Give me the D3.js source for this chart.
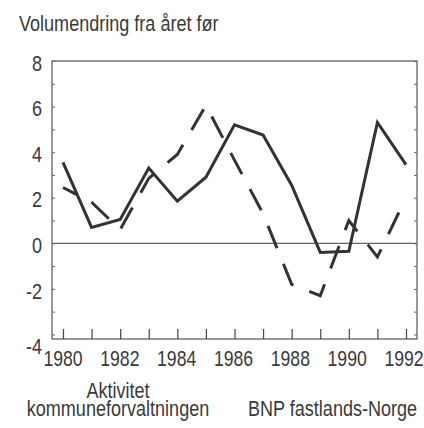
<!DOCTYPE html>
<html>
<head>
<meta charset="utf-8">
<script src="https://cdn.jsdelivr.net/npm/d3@7"></script>
<style>
  body { margin: 0; background: #fff; }
  text { font-family: "Liberation Sans", Arial, sans-serif; fill: #3a3a3a; }
</style>
</head>
<body>
<script>
var years = [1980, 1981, 1982, 1983, 1984, 1985, 1986, 1987, 1988, 1989, 1990, 1991, 1992];
var solid = [3.55, 0.7, 1.05, 3.3, 1.85, 2.9, 5.2, 4.75, 2.55, -0.4, -0.35, 5.3, 3.45];
var dashed = [2.45, 1.8, 0.6, 2.85, 3.9, 6.05, 3.65, 1.3, -1.8, -2.3, 1.0, -0.6, 2.0];
var yTicks = [-4, -2, 0, 2, 4, 6, 8];
var xLabels = [1980, 1982, 1984, 1986, 1988, 1990, 1992];
var title = "Volumendring fra året før";
var legendLeft = ["Aktivitet", "kommuneforvaltningen"];
var legendRight = "BNP fastlands-Norge";

var svg = d3.select("body").append("svg")
    .attr("width", 424)
    .attr("height", 428);

var plotLeft = 52, plotRight = 417, plotTop = 61, plotBottom = 339;

var scalex = d3.scaleLinear()
    .domain([1980, 1992])
    .range([63, 406]);

// year labels sit a touch left of their ticks towards the right end
var scalexLabel = scalex.copy().range([62.5, 403.5]);

var scaley = d3.scaleLinear()
    .domain([-4.2, 8])
    .range([plotBottom, plotTop]);

// the original uses a narrow face; squeeze the regular one
function narrow(sel) {
  sel.each(function() {
    var w = this.getComputedTextLength();
    d3.select(this)
      .attr("textLength", w * 0.82)
      .attr("lengthAdjust", "spacingAndGlyphs");
  });
}

// title
svg.append("text")
    .attr("x", 19)
    .attr("y", 31)
    .style("font-size", "22px")
    .text(title)
    .call(narrow);

// frame
svg.append("rect")
    .attr("x", plotLeft)
    .attr("y", plotTop)
    .attr("width", plotRight - plotLeft)
    .attr("height", plotBottom - plotTop)
    .attr("fill", "none")
    .attr("stroke", "#555")
    .attr("stroke-width", 1.2);

// zero line
svg.append("line")
    .attr("x1", plotLeft).attr("x2", plotRight)
    .attr("y1", scaley(0)).attr("y2", scaley(0))
    .attr("stroke", "#666")
    .attr("stroke-width", 1.2);

// inward minor ticks on left and right axes
var yAxisL = d3.axisRight(scaley)
    .tickValues(d3.range(-4, 9))
    .tickSize(3)
    .tickFormat("");
svg.append("g")
    .attr("class", "y-minor")
    .attr("transform", `translate(${plotLeft}, 0)`)
    .call(yAxisL)
    .call(g => g.select(".domain").remove());

var yAxisR = d3.axisLeft(scaley)
    .tickValues(d3.range(-4, 9))
    .tickSize(3)
    .tickFormat("");
svg.append("g")
    .attr("class", "y-minor-r")
    .attr("transform", `translate(${plotRight}, 0)`)
    .call(yAxisR)
    .call(g => g.select(".domain").remove());

svg.selectAll(".y-minor line, .y-minor-r line").attr("stroke", "#666");

// y labels
var y_axis = d3.axisLeft(scaley)
    .tickValues(yTicks)
    .tickSize(0)
    .tickPadding(10)
    .tickFormat(d => String(d));
svg.append("g")
    .attr("class", "y-axis")
    .attr("transform", `translate(${plotLeft}, 0)`)
    .call(y_axis)
    .call(g => g.select(".domain").remove())
    .selectAll("text")
    .attr("font-size", null)
    .style("font-size", "22px")
    .attr("font-family", null)
    .attr("fill", null)
    .attr("dy", d => d === -4 ? "0.85em" : "0.42em")
    .call(narrow);

// x ticks (inward, up from bottom)
var x_axis = d3.axisTop(scalex)
    .tickValues(years)
    .tickSize(10)
    .tickFormat("");
svg.append("g")
    .attr("class", "x-axis")
    .attr("transform", `translate(0, ${plotBottom})`)
    .call(x_axis)
    .call(g => g.select(".domain").remove())
    .selectAll("line")
    .attr("stroke", "#444")
    .attr("stroke-width", 1.2);

// x labels
var x_labels = d3.axisBottom(scalexLabel)
    .tickValues(xLabels)
    .tickSize(0)
    .tickPadding(12)
    .tickFormat(d => String(d));
svg.append("g")
    .attr("class", "x-labels")
    .attr("transform", `translate(0, ${plotBottom})`)
    .call(x_labels)
    .call(g => g.select(".domain").remove())
    .selectAll("text")
    .attr("font-size", null)
    .style("font-size", "21.5px")
    .attr("font-family", null)
    .attr("fill", null)
    .attr("dy", "0.71em")
    .call(narrow);

// lines
var line = d3.line()
    .x((d, i) => scalex(years[i]))
    .y(d => scaley(d));

svg.append("path")
    .datum(dashed)
    .attr("d", line)
    .attr("fill", "none")
    .attr("stroke", "#333")
    .attr("stroke-width", 3)
    .attr("stroke-dasharray", "24,17")
    .attr("stroke-dashoffset", 9);

svg.append("path")
    .datum(solid)
    .attr("d", line)
    .attr("fill", "none")
    .attr("stroke", "#333")
    .attr("stroke-width", 3)
    .attr("stroke-linejoin", "miter");

// legend
svg.selectAll(".legend-left")
    .data(legendLeft)
    .enter()
    .append("text")
    .attr("class", "legend-left")
    .attr("text-anchor", "middle")
    .attr("x", 118)
    .attr("y", (d, i) => 398 + i * 18)
    .style("font-size", "22px")
    .text(d => d)
    .call(narrow);

svg.append("text")
    .attr("x", 248)
    .attr("y", 416)
    .style("font-size", "22px")
    .text(legendRight)
    .call(narrow);
</script>
</body>
</html>
